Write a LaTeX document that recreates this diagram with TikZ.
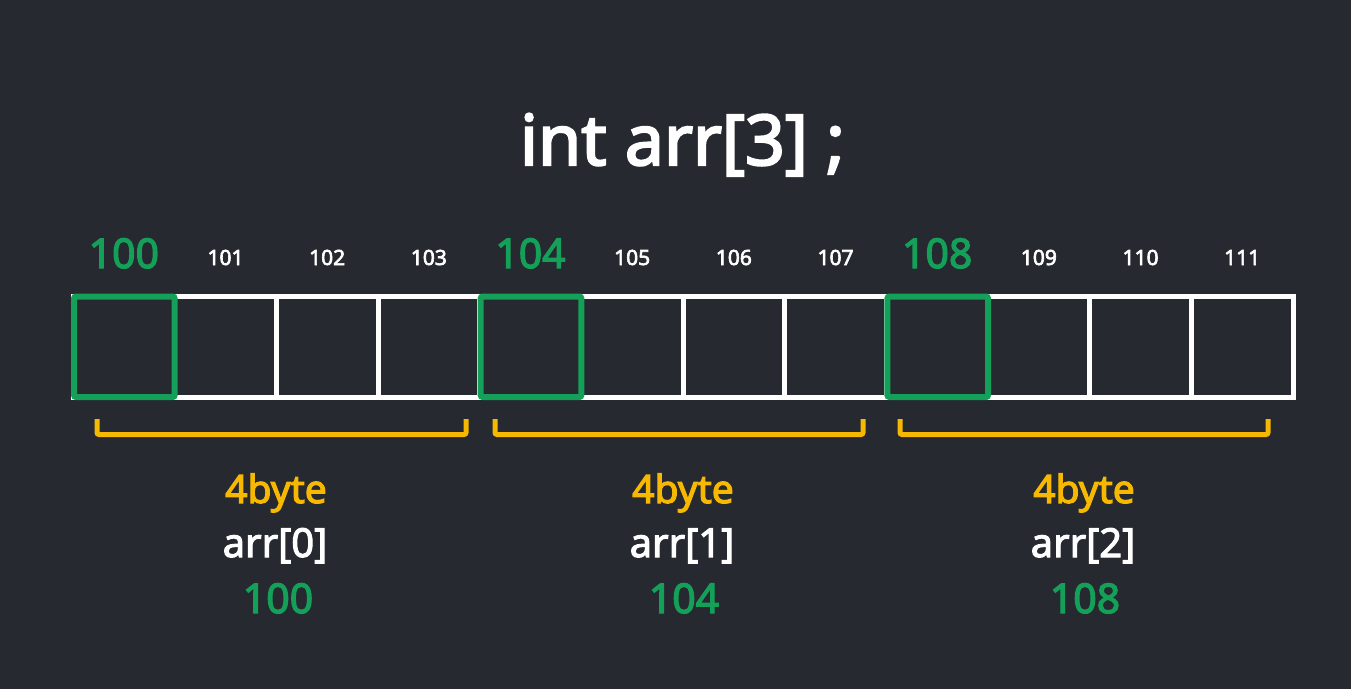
\documentclass[tikz,border=0pt]{standalone}
\usepackage{fontspec}
\setmainfont{Noto Sans}
\newfontfamily\boldf{Noto Sans}[FakeBold=3]
\newfontfamily\medf{Noto Sans}[FakeBold=2.6]
\definecolor{bg}{RGB}{38,41,48}
\definecolor{grn}{RGB}{20,160,88}
\definecolor{ylw}{RGB}{246,184,0}
\tikzset{
  cellline/.style={draw=white,line width=5pt},
  greenbox/.style={draw=grn,line width=6pt,rounded corners=2pt},
  brack/.style={draw=ylw,line width=5pt,rounded corners=2pt},
  biglbl/.style={anchor=base,text=grn,font=\fontsize{41}{46}\selectfont\boldf,inner sep=0pt},
  smalllbl/.style={anchor=base,text=white,font=\fontsize{21}{24}\selectfont\boldf,inner sep=0pt},
  bytelbl/.style={anchor=base,text=ylw,font=\fontsize{39}{42}\selectfont\boldf,inner sep=0pt},
  arrlbl/.style={anchor=base,text=white,font=\fontsize{40}{42}\selectfont\medf,inner sep=0pt},
  addrlbl/.style={anchor=base,text=grn,font=\fontsize{41}{44}\selectfont\boldf,inner sep=0pt}
}
\begin{document}
\begin{tikzpicture}[x=1pt,y=-1pt]
\fill[bg] (0,0) rectangle (1351,689);
\useasboundingbox (0,0) rectangle (1351,689);
\node[anchor=base,text=white,font=\fontsize{70}{74}\selectfont\boldf,inner sep=0pt] (title) at (682.5,165) {int arr[3] ;};
% grid
\def\cw{101.67}
\draw[cellline] (73,296.5) rectangle (1293,397);
\foreach \k in {1,...,11}{
  \draw[cellline] ({73+\k*\cw},296.5) -- ({73+\k*\cw},397);
}
% green boxes
\foreach \k in {0,4,8}{
  \draw[greenbox] ({74+\k*\cw},296.5) rectangle ({73+(\k+1)*\cw},397);
}
% top labels
\node[biglbl] (a100) at ({73+0.5*\cw},268) {100};
\node[smalllbl] (a101) at ({73+1.5*\cw},265) {101};
\node[smalllbl] (a102) at ({73+2.5*\cw},265) {102};
\node[smalllbl] (a103) at ({73+3.5*\cw},265) {103};
\node[biglbl] (a104) at ({73+4.5*\cw},268) {104};
\node[smalllbl] (a105) at ({73+5.5*\cw},265) {105};
\node[smalllbl] (a106) at ({73+6.5*\cw},265) {106};
\node[smalllbl] (a107) at ({73+7.5*\cw},265) {107};
\node[biglbl] (a108) at ({73+8.5*\cw},268) {108};
\node[smalllbl] (a109) at ({73+9.5*\cw},265) {109};
\node[smalllbl] (a110) at ({73+10.5*\cw},265) {110};
\node[smalllbl] (a111) at ({73+11.5*\cw},265) {111};
% brackets
\draw[brack] (97,419) -- (97,434.5) -- (466,434.5) -- (466,419);
\draw[brack] (495,419) -- (495,434.5) -- (863,434.5) -- (863,419);
\draw[brack] (900,419) -- (900,434.5) -- (1268,434.5) -- (1268,419);
% bottom labels
\node[bytelbl] (b0) at (276,503) {4byte};
\node[bytelbl] (b1) at (683,503) {4byte};
\node[bytelbl] (b2) at (1084,503) {4byte};
\node[arrlbl] (r0) at (275,557) {arr[0]};
\node[arrlbl] (r1) at (682,557) {arr[1]};
\node[arrlbl] (r2) at (1083,557) {arr[2]};
\node[addrlbl] (d0) at (278,613) {100};
\node[addrlbl] (d1) at (684,613) {104};
\node[addrlbl] (d2) at (1085,613) {108};
\end{tikzpicture}
\end{document}
